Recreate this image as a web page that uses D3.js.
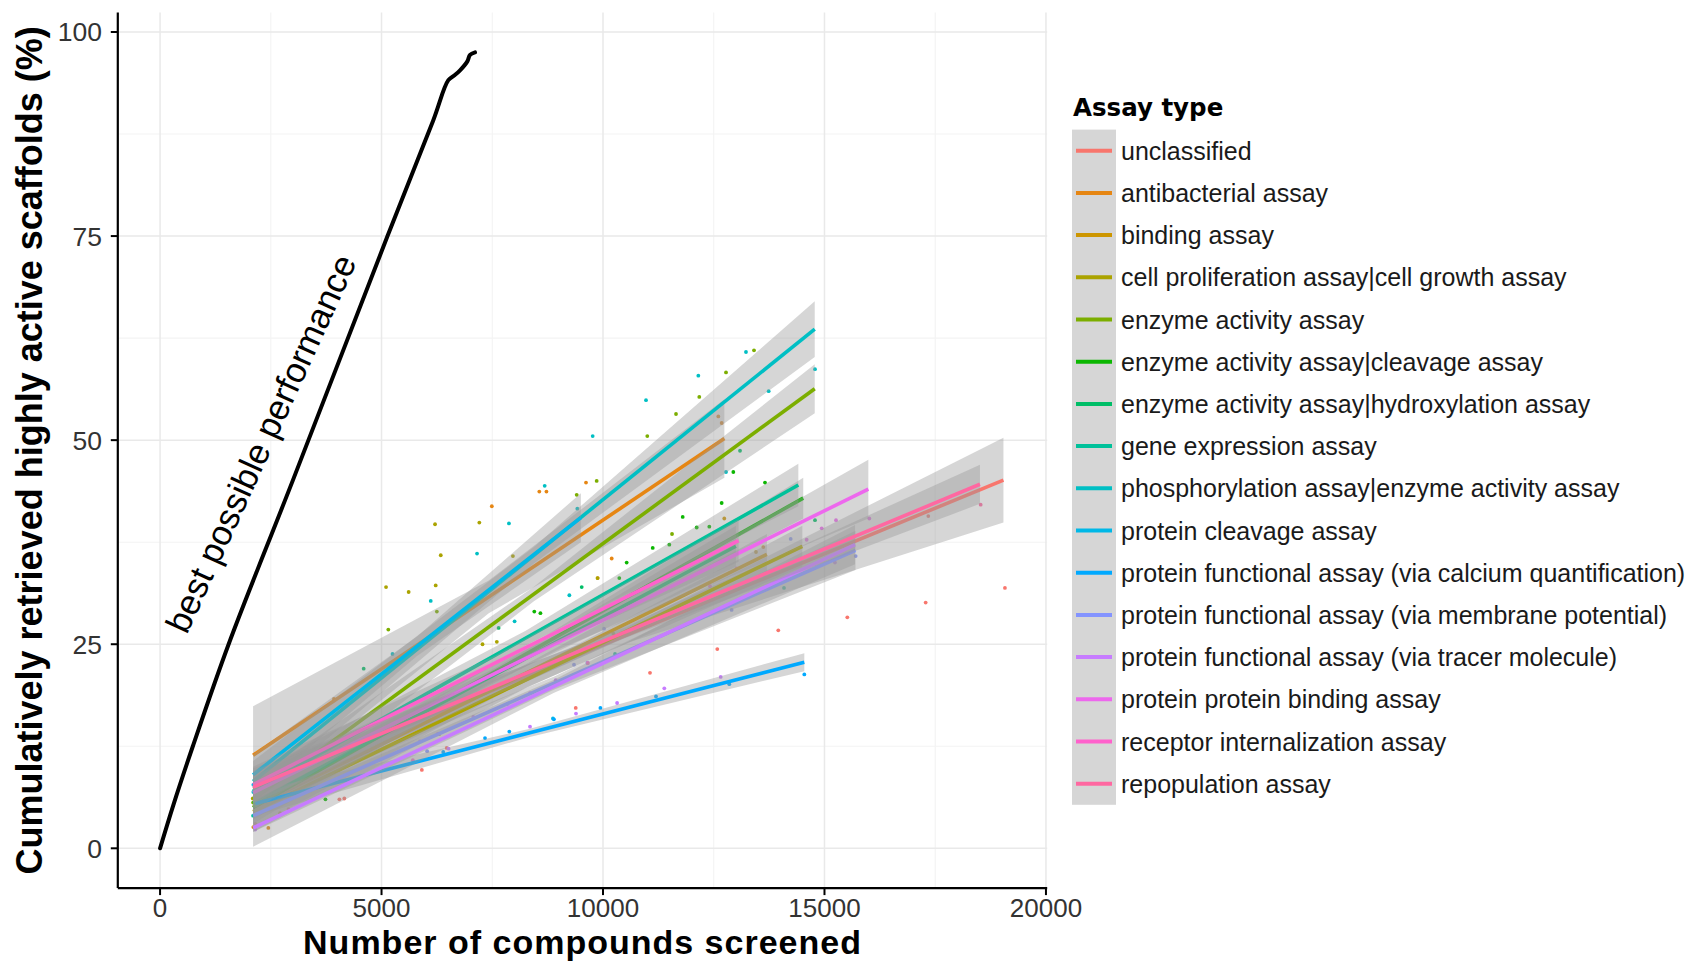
<!DOCTYPE html>
<html><head><meta charset="utf-8">
<script src="https://cdn.jsdelivr.net/npm/d3@7"></script>
<style>
body{margin:0;background:#fff;}
svg{display:block;font-family:"Liberation Sans",Arial,sans-serif;}
</style>
</head><body>
<svg id="chart" width="1703" height="961"></svg>
<script>
// ---------------- data ----------------
const assayTypes = [
  "unclassified","antibacterial assay","binding assay",
  "cell proliferation assay|cell growth assay","enzyme activity assay",
  "enzyme activity assay|cleavage assay","enzyme activity assay|hydroxylation assay",
  "gene expression assay","phosphorylation assay|enzyme activity assay",
  "protein cleavage assay","protein functional assay (via calcium quantification)",
  "protein functional assay (via membrane potential)","protein functional assay (via tracer molecule)",
  "protein protein binding assay","receptor internalization assay","repopulation assay"
];
const assayColors = ["#F8766D","#E68613","#CD9600","#ABA300","#7CAE00","#0CB702","#00BE67","#00C19A",
  "#00BFC4","#00B8E7","#00A9FF","#8494FF","#C77CFF","#ED68ED","#FF61CC","#FF68A1"];

// fitted regression lines: start/end
const fitX0 = [2100,2100,2100,2100,2100,2100,2100,2100,2100,2100,2150,2100,2100,2100,2100,2100];
const fitY0 = [7.3,11.4,5.0,4.5,6.0,5.0,5.5,7.0,8.2,9.0,5.5,4.0,2.5,6.8,7.8,7.5];
const fitX1 = [19040,12740,13700,14500,14780,14520,13000,14410,14780,9500,14545,15700,15690,15990,13060,18510];
const fitY1 = [45.1,50.2,36.0,37.0,56.3,42.9,37.0,44.5,63.6,40.5,22.8,36.5,37.2,44.0,37.7,44.6];
// confidence band half widths at start / middle / end
const bandStart = [2.5,6.0,2.5,2.5,2.2,2.0,2.0,2.2,2.5,2.5,1.5,2.0,2.3,2.0,2.2,2.0];
const bandMid   = [1.0,2.0,1.0,1.0,0.9,0.8,0.8,0.9,1.0,1.2,0.5,0.8,0.8,0.9,0.9,0.7];
const bandEnd   = [5.2,4.8,2.5,2.5,3.0,2.5,2.5,2.6,3.4,3.0,1.1,2.4,2.4,3.6,2.6,2.4];

// scattered observations
const pointGroup = [
  0,0,0,0,0,0,0,0,0,0,0,0,0,
  1,1,1,1,1,1,1,1,1,1,1,
  2,2,2,2,2,2,
  3,3,3,3,3,3,3,3,3,3,3,3,
  4,4,4,4,4,4,4,4,4,4,4,
  5,5,5,5,5,5,5,5,5,5,5,5,5,
  6,6,6,6,6,
  7,7,7,
  8,8,8,8,8,8,8,8,8,8,8,8,8,8,8,8,
  9,9,
  10,10,10,10,10,10,10,10,10,
  11,11,11,11,11,11,11,11,
  12,12,12,12,12,12,12,12,12,12,12,
  13,13,13,13,13,
  14,14,14,14,14,
  15,15
];
const pointX = [
  19074,17284,15515,13957,12580,11061,9384,5910,4048,4160,6471,17344,2150,
  9616,8562,8723,7490,10196,9880,3926,2445,12603,12679,13619,
  2106,2709,12738,13454,6305,4500,
  6208,7208,6337,5102,5612,6223,7966,7280,7603,2093,10233,9876,
  13409,12777,12174,11648,11000,9857,9406,5153,6249,11558,2100,
  12942,13657,12679,11799,12115,12400,11122,11497,10534,10368,8449,8587,3734,
  14786,9519,7643,4597,13093,
  2100,10271,14086,
  13228,12152,10971,9767,14786,13740,12777,9420,9240,7156,6111,8004,5248,8683,7876,2106,
  8870,2106,
  14545,12851,11196,9941,8892,7885,7336,6393,2150,
  15704,14237,12904,9646,9345,6030,7844,10023,
  12657,11384,9390,10318,8352,6514,5869,7072,8932,15237,2150,
  15260,16012,14937,14597,8352,
  13018,12415,5707,6272,9658,
  18526,2900
];
const pointY = [
  31.9,30.1,28.3,26.7,24.4,21.5,17.2,9.6,6.0,6.1,12.3,40.7,3.0,
  44.8,43.7,43.7,41.9,35.5,33.1,18.3,2.5,52.9,52.1,36.9,
  2.6,4.3,40.4,36.3,14.0,8.8,
  39.7,39.9,35.9,32.0,31.4,32.2,35.8,25.0,25.3,6.1,26.3,33.1,
  61.0,58.3,55.3,53.2,50.5,45.0,43.3,26.8,29.0,38.5,5.6,
  46.1,44.8,42.3,40.6,39.3,39.4,36.8,37.2,35.0,33.1,29.0,28.8,6.0,
  40.2,32.0,27.0,22.0,48.7,
  4.0,23.8,31.9,
  60.8,57.9,54.9,50.5,58.7,56.0,46.1,41.6,31.0,36.1,30.3,27.8,23.8,44.4,39.8,6.9,
  15.9,7.8,
  21.3,20.1,18.6,17.2,15.8,14.3,13.5,11.8,7.3,
  35.8,37.9,29.2,22.7,22.5,11.9,17.7,26.9,
  21.0,19.6,16.5,17.8,14.9,12.2,13.1,16.1,20.6,35.0,2.3,
  40.2,40.4,39.2,37.8,19.0,
  34.3,32.1,10.8,14.0,22.7,
  42.1,4.8
];

// best possible performance curve
const bestX = [0,300,740,1548,3000,5135,6169,6508,6650,6772,6937,6998,7110];
const bestY = [0,5.3,12.5,25,45.1,75,89.2,94.1,94.7,95.3,96.4,97.2,97.5];

const xTicks = [0,5000,10000,15000,20000];
const yTicks = [0,25,50,75,100];
const xMinor = [2500,7500,12500,17500];
const yMinor = [12.5,37.5,62.5,87.5];

// ---------------- drawing ----------------
const svg = d3.select("#chart");
const panel = {left:117.8, right:1047.2, top:12.6, bottom:888.1};
const x = d3.scaleLinear().domain([-954,20028]).range([panel.left,panel.right]);
const y = d3.scaleLinear().domain([-4.875,102.375]).range([panel.bottom,panel.top]);

svg.append("defs").append("clipPath").attr("id","clip")
  .append("rect").attr("x",panel.left).attr("y",panel.top)
  .attr("width",panel.right-panel.left).attr("height",panel.bottom-panel.top);

const grid = svg.append("g");
grid.selectAll(".vmin").data(xMinor).join("line")
  .attr("x1",d=>x(d)).attr("x2",d=>x(d)).attr("y1",panel.top).attr("y2",panel.bottom)
  .attr("stroke","#f3f3f3").attr("stroke-width",1.1);
grid.selectAll(".hmin").data(yMinor).join("line")
  .attr("y1",d=>y(d)).attr("y2",d=>y(d)).attr("x1",panel.left).attr("x2",panel.right)
  .attr("stroke","#f3f3f3").attr("stroke-width",1.1);
grid.selectAll(".vmaj").data(xTicks).join("line")
  .attr("x1",d=>x(d)).attr("x2",d=>x(d)).attr("y1",panel.top).attr("y2",panel.bottom)
  .attr("stroke","#e9e9e9").attr("stroke-width",1.5);
grid.selectAll(".hmaj").data(yTicks).join("line")
  .attr("y1",d=>y(d)).attr("y2",d=>y(d)).attr("x1",panel.left).attr("x2",panel.right)
  .attr("stroke","#e9e9e9").attr("stroke-width",1.5);

const plot = svg.append("g").attr("clip-path","url(#clip)");

// points
plot.append("g").selectAll("circle").data(pointX.map((v,i)=>i)).join("circle")
  .attr("cx",i=>x(pointX[i])).attr("cy",i=>y(pointY[i])).attr("r",1.9)
  .attr("fill",i=>assayColors[pointGroup[i]]);

// smooth ribbons + lines per group (drawn group by group)
const area = d3.area().x(d=>x(d[0])).y0(d=>y(d[1])).y1(d=>y(d[2]));
assayTypes.forEach((name,i)=>{
  const xm = (fitX0[i]+fitX1[i])/2, ym = (fitY0[i]+fitY1[i])/2;
  const band = [
    [fitX0[i], fitY0[i]-bandStart[i], fitY0[i]+bandStart[i]],
    [xm, ym-bandMid[i], ym+bandMid[i]],
    [fitX1[i], fitY1[i]-bandEnd[i], fitY1[i]+bandEnd[i]]
  ];
  plot.append("path").attr("d",area(band)).attr("fill","#999999").attr("fill-opacity",0.4);
  plot.append("line")
    .attr("x1",x(fitX0[i])).attr("y1",y(fitY0[i]))
    .attr("x2",x(fitX1[i])).attr("y2",y(fitY1[i]))
    .attr("stroke",assayColors[i]).attr("stroke-width",3.6);
});

// best possible curve
plot.append("path")
  .attr("d",d3.line().x(d=>x(d[0])).y(d=>y(d[1])).curve(d3.curveCatmullRom.alpha(0.5))(bestX.map((v,i)=>[v,bestY[i]])))
  .attr("fill","none").attr("stroke","#000").attr("stroke-width",4).attr("stroke-linejoin","round")
  .attr("stroke-linecap","round");

svg.append("text").attr("transform",`translate(${x(2270)},${y(49.6)}) rotate(-65.5)`)
  .attr("text-anchor","middle").attr("dominant-baseline","central")
  .attr("font-size",35).attr("fill","#000").text("best possible performance");

// axes
const axisColor = "#000";
svg.append("line").attr("x1",panel.left).attr("x2",panel.left).attr("y1",panel.top).attr("y2",panel.bottom)
  .attr("stroke",axisColor).attr("stroke-width",2.2);
svg.append("line").attr("x1",panel.left).attr("x2",panel.right).attr("y1",panel.bottom).attr("y2",panel.bottom)
  .attr("stroke",axisColor).attr("stroke-width",2.2);
const xAx = svg.append("g");
xAx.selectAll("line").data(xTicks).join("line")
  .attr("x1",d=>x(d)).attr("x2",d=>x(d)).attr("y1",panel.bottom).attr("y2",panel.bottom+7)
  .attr("stroke",axisColor).attr("stroke-width",2);
xAx.selectAll("text").data(xTicks).join("text")
  .attr("x",d=>x(d)).attr("y",917).attr("text-anchor","middle")
  .attr("font-size",26).attr("fill","#333").text(d=>d);
const yAx = svg.append("g");
yAx.selectAll("line").data(yTicks).join("line")
  .attr("x1",panel.left-7).attr("x2",panel.left).attr("y1",d=>y(d)).attr("y2",d=>y(d))
  .attr("stroke",axisColor).attr("stroke-width",2);
yAx.selectAll("text").data(yTicks).join("text")
  .attr("x",102).attr("y",d=>y(d)+9.5).attr("text-anchor","end")
  .attr("font-size",26.5).attr("fill","#333").text(d=>d);

svg.append("text").attr("x",(panel.left+panel.right)/2).attr("y",953.5).attr("text-anchor","middle")
  .attr("font-size",34).attr("letter-spacing",1).attr("font-weight","bold").text("Number of compounds screened");
svg.append("text").attr("transform",`translate(42,${(panel.top+panel.bottom)/2}) rotate(-90)`)
  .attr("text-anchor","middle").attr("font-size",36).attr("font-weight","bold")
  .text("Cumulatively retrieved highly active scaffolds (%)");

// legend
const lg = svg.append("g");
lg.append("text").attr("x",1073).attr("y",116).attr("font-family","'DejaVu Sans',sans-serif")
  .attr("font-weight","bold").attr("font-size",24.5).text("Assay type");
const keyTop = 129.6, keyH = 42.2;
lg.append("rect").attr("x",1072).attr("y",keyTop).attr("width",44).attr("height",keyH*assayTypes.length)
  .attr("fill","#d6d6d6");
const items = lg.selectAll(".item").data(assayTypes).join("g")
  .attr("transform",(d,i)=>`translate(0,${keyTop+keyH*i+keyH/2})`);
items.append("line").attr("x1",1076).attr("x2",1112).attr("y1",0).attr("y2",0)
  .attr("stroke",(d,i)=>assayColors[i]).attr("stroke-width",4);
items.append("text").attr("x",1121).attr("y",9).attr("font-size",25).attr("fill","#1a1a1a").text(d=>d);
</script>
</body></html>
